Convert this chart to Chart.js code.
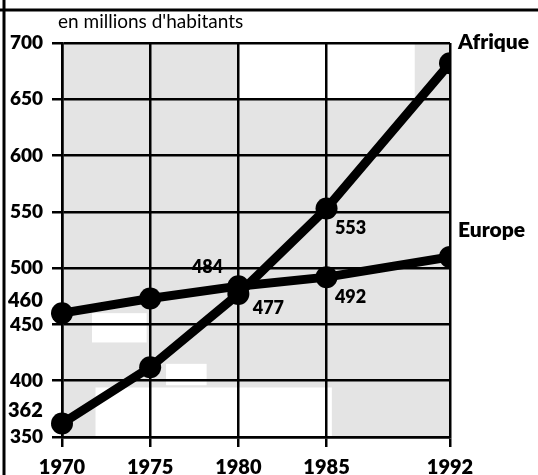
<!DOCTYPE html>
<html>
<head>
<meta charset="utf-8">
<script src="https://cdn.jsdelivr.net/npm/chart.js@4"></script>
<style>
  body { margin: 0; background: #fff; }
  #wrap { width: 538px; height: 475px; }
</style>
</head>
<body>
<div id="wrap"><canvas id="popChart" width="538" height="475"></canvas></div>
<script>
// données
const years = [1970, 1975, 1980, 1985, 1992];
const afrique = [362, 412, 477, 553, 682];
const europe = [460, 473, 484, 492, 510];
const yTicks = [350, 400, 450, 500, 550, 600, 650, 700];
const seriesNames = ['Afrique', 'Europe'];
const unitLabel = "en millions d'habitants";

// valeurs écrites à côté des points : [série, index, dx, dy]
const pointNotes = [
    [1, 2, -31, -19],
    [0, 2, 30, 14],
    [0, 3, 24, 20],
    [1, 3, 24, 20]
];

// zones blanches du fond tramé (en unités du graphique)
const blankZones = [
    [1980, 1990, 650, 700],
    [1971.9, 1985.3, 350, 394],
    [1971.7, 1974.8, 434, 460],
    [1975.9, 1978.2, 396, 415]
];

const BLACK = '#000';
const FONT = 'Lato, "Open Sans", sans-serif';

function toPoints(values) {
    return years.map(function (yr, i) { return { x: yr, y: values[i] }; });
}

const decor = {
    id: 'decor',
    beforeDraw: function (chart) {
        const c = chart.ctx;
        const a = chart.chartArea;
        const xs = chart.scales.x, ys = chart.scales.y;
        c.save();
        c.fillStyle = '#fff';
        c.fillRect(0, 0, chart.width, chart.height);
        c.fillStyle = '#e4e4e4';
        c.fillRect(a.left, a.top, a.right - a.left, a.bottom - a.top);
        c.fillStyle = '#fff';
        blankZones.forEach(function (z) {
            const x0 = xs.getPixelForValue(z[0]), x1 = xs.getPixelForValue(z[1]);
            const y0 = ys.getPixelForValue(z[3]), y1 = ys.getPixelForValue(z[2]);
            c.fillRect(x0, y0, x1 - x0, y1 - y0);
        });
        c.restore();
    },
    afterDatasetsDraw: function (chart) {
        const c = chart.ctx;
        const a = chart.chartArea;
        const xs = chart.scales.x, ys = chart.scales.y;
        const series = [afrique, europe];
        c.save();
        c.fillStyle = BLACK;

        // unité
        c.font = '400 19px ' + FONT;
        c.textAlign = 'left';
        c.textBaseline = 'middle';
        c.fillText(unitLabel, a.left - 4, a.top - 21);

        // valeurs des points
        c.font = '800 18px ' + FONT;
        c.textAlign = 'center';
        pointNotes.forEach(function (n) {
            const v = series[n[0]][n[1]];
            const px = xs.getPixelForValue(years[n[1]]);
            const py = ys.getPixelForValue(v);
            c.fillText(String(v), px + n[2], py + n[3]);
        });

        // valeurs de départ sur l'axe
        c.textAlign = 'left';
        c.font = '800 20px ' + FONT;
        [europe[0], afrique[0]].forEach(function (v) {
            c.fillText(String(v), 8, ys.getPixelForValue(v) - 13);
        });

        // noms des séries
        c.font = '800 21px ' + FONT;
        const last = years.length - 1;
        c.fillText(seriesNames[0], a.right + 8, ys.getPixelForValue(afrique[last]) - 21);
        c.fillText(seriesNames[1], a.right + 8, ys.getPixelForValue(europe[last]) - 27);

        // cadre
        c.strokeStyle = BLACK;
        c.lineWidth = 3;
        c.beginPath();
        c.moveTo(0, 10); c.lineTo(chart.width, 10);
        c.moveTo(4, 0); c.lineTo(4, chart.height);
        c.stroke();
        c.restore();
    }
};

const ctx = document.getElementById('popChart').getContext('2d');
const chart = new Chart(ctx, {
    type: 'line',
    data: {
        datasets: [
            {
                label: seriesNames[0],
                data: toPoints(afrique),
                borderColor: BLACK,
                backgroundColor: BLACK,
                borderWidth: 9,
                pointRadius: 11,
                pointBorderWidth: 0,
                clip: { left: false, top: false, right: 0, bottom: false }
            },
            {
                label: seriesNames[1],
                data: toPoints(europe),
                borderColor: BLACK,
                backgroundColor: BLACK,
                borderWidth: 9,
                pointRadius: 11,
                pointBorderWidth: 0,
                clip: { left: false, top: false, right: 0, bottom: false }
            }
        ]
    },
    options: {
        responsive: false,
        animation: false,
        devicePixelRatio: 1,
        layout: { padding: { top: 43, right: 88, left: 0, bottom: 0 } },
        plugins: {
            legend: { display: false },
            tooltip: { enabled: false }
        },
        scales: {
            x: {
                type: 'linear',
                min: years[0],
                max: years[years.length - 1],
                afterBuildTicks: function (scale) {
                    scale.ticks = years.map(function (v) { return { value: v }; });
                },
                afterFit: function (scale) { scale.height = 38; },
                grid: { color: BLACK, lineWidth: 2.5, tickLength: 10, tickColor: BLACK },
                border: { color: BLACK, width: 2.5 },
                ticks: {
                    color: BLACK,
                    padding: 9,
                    maxRotation: 0,
                    font: { family: FONT, size: 20, weight: '800' },
                    callback: function (v) { return String(v); }
                }
            },
            y: {
                min: yTicks[0],
                max: yTicks[yTicks.length - 1],
                afterBuildTicks: function (scale) {
                    scale.ticks = yTicks.map(function (v) { return { value: v }; });
                },
                afterFit: function (scale) { scale.width = 62; },
                grid: { color: BLACK, lineWidth: 2.5, tickLength: 10, tickColor: BLACK },
                border: { color: BLACK, width: 2.5 },
                ticks: {
                    color: BLACK,
                    padding: 9,
                    font: { family: FONT, size: 19, weight: '800' },
                    callback: function (v) { return String(v); }
                }
            }
        }
    },
    plugins: [decor]
});
</script>
</body>
</html>
